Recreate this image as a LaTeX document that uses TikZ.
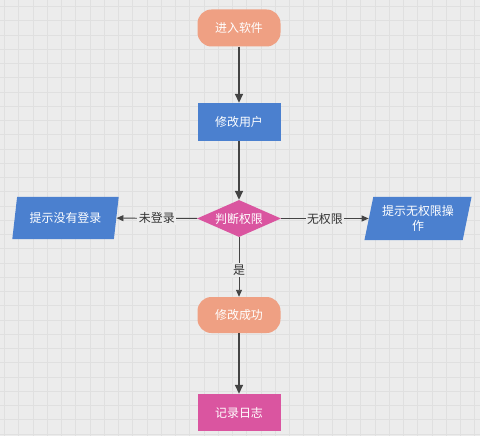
\documentclass[tikz,border=0pt]{standalone}
\usepackage{fontspec}
\setmainfont{Noto Sans CJK SC}
\usepackage{tikz}
\usetikzlibrary{shapes.geometric,arrows.meta}

\definecolor{bgcol}{HTML}{ECECEC}
\definecolor{gridcol}{HTML}{E0E0E0}
\definecolor{salmon}{HTML}{EFA083}
\definecolor{boxblue}{HTML}{4B80CF}
\definecolor{rose}{HTML}{DA55A0}
\definecolor{linecol}{HTML}{444444}

\begin{document}
\begin{tikzpicture}[x=1bp, y=-1bp, font=\fontsize{12}{15}\selectfont,
    base/.style={text=white, inner sep=2bp},
    terminal/.style={base, fill=salmon, rounded corners=14bp, minimum width=83bp, minimum height=37bp},
    process/.style={base, fill=boxblue, minimum width=83bp, minimum height=38bp},
    logbox/.style={base, fill=rose, minimum width=83bp, minimum height=37bp},
    decision/.style={base, fill=rose, diamond, aspect=2.27, minimum width=84bp, minimum height=37bp, inner sep=0pt},
    inout/.style={base, fill=boxblue, trapezium, trapezium left angle=76, trapezium right angle=104,
        trapezium stretches=true, minimum width=107bp, minimum height=42bp, align=center},
    bigarrow/.style={draw=linecol, line width=1.6bp, -{Triangle[length=9bp, width=8bp]}},
    smallarrow/.style={draw=linecol, line width=0.9bp, -{Triangle[length=7bp, width=6bp]}},
    lbl/.style={fill=bgcol, text=black!80, inner sep=1.5bp}]
      \useasboundingbox (0, 0) rectangle (480, 436);
      \fill[bgcol] (0, 0) rectangle (480, 436);
      % background grid
      \foreach \i in {0,...,33} {
          \draw[gridcol, line width=0.8bp] (4.6 + 14.25*\i, 0) -- ++(0, 436);
      }
      \foreach \i in {0,...,30} {
          \draw[gridcol, line width=0.8bp] (0, 6.5 + 14.25*\i) -- ++(480, 0);
      }

      \node[terminal] (start)  at (239, 28)  {进入软件};
      \node[process]  (modify) at (239, 122) {修改用户};
      \node[decision] (check)  at (239, 218.5) {判断权限};
      \node[inout]    (nolog)  at (65.5, 218) {提示没有登录};
      \node[inout, minimum width=108bp, minimum height=43bp] (noright) at (418, 218.5) {提示无权限操\\作};
      \node[terminal, minimum height=36bp] (done) at (239, 315) {修改成功};
      \node[logbox]   (log)    at (239, 412.5) {记录日志};

      \path
          (start)  edge[bigarrow] (modify)
          (modify) edge[bigarrow] (check)
          (done)   edge[bigarrow] (log)
          (check)  edge[smallarrow] node[lbl] {未登录} (nolog)
          (check)  edge[smallarrow] node[lbl] {无权限} (noright)
          (check)  edge[smallarrow] node[lbl, pos=0.55] {是} (done)
          ;
\end{tikzpicture}
\end{document}
